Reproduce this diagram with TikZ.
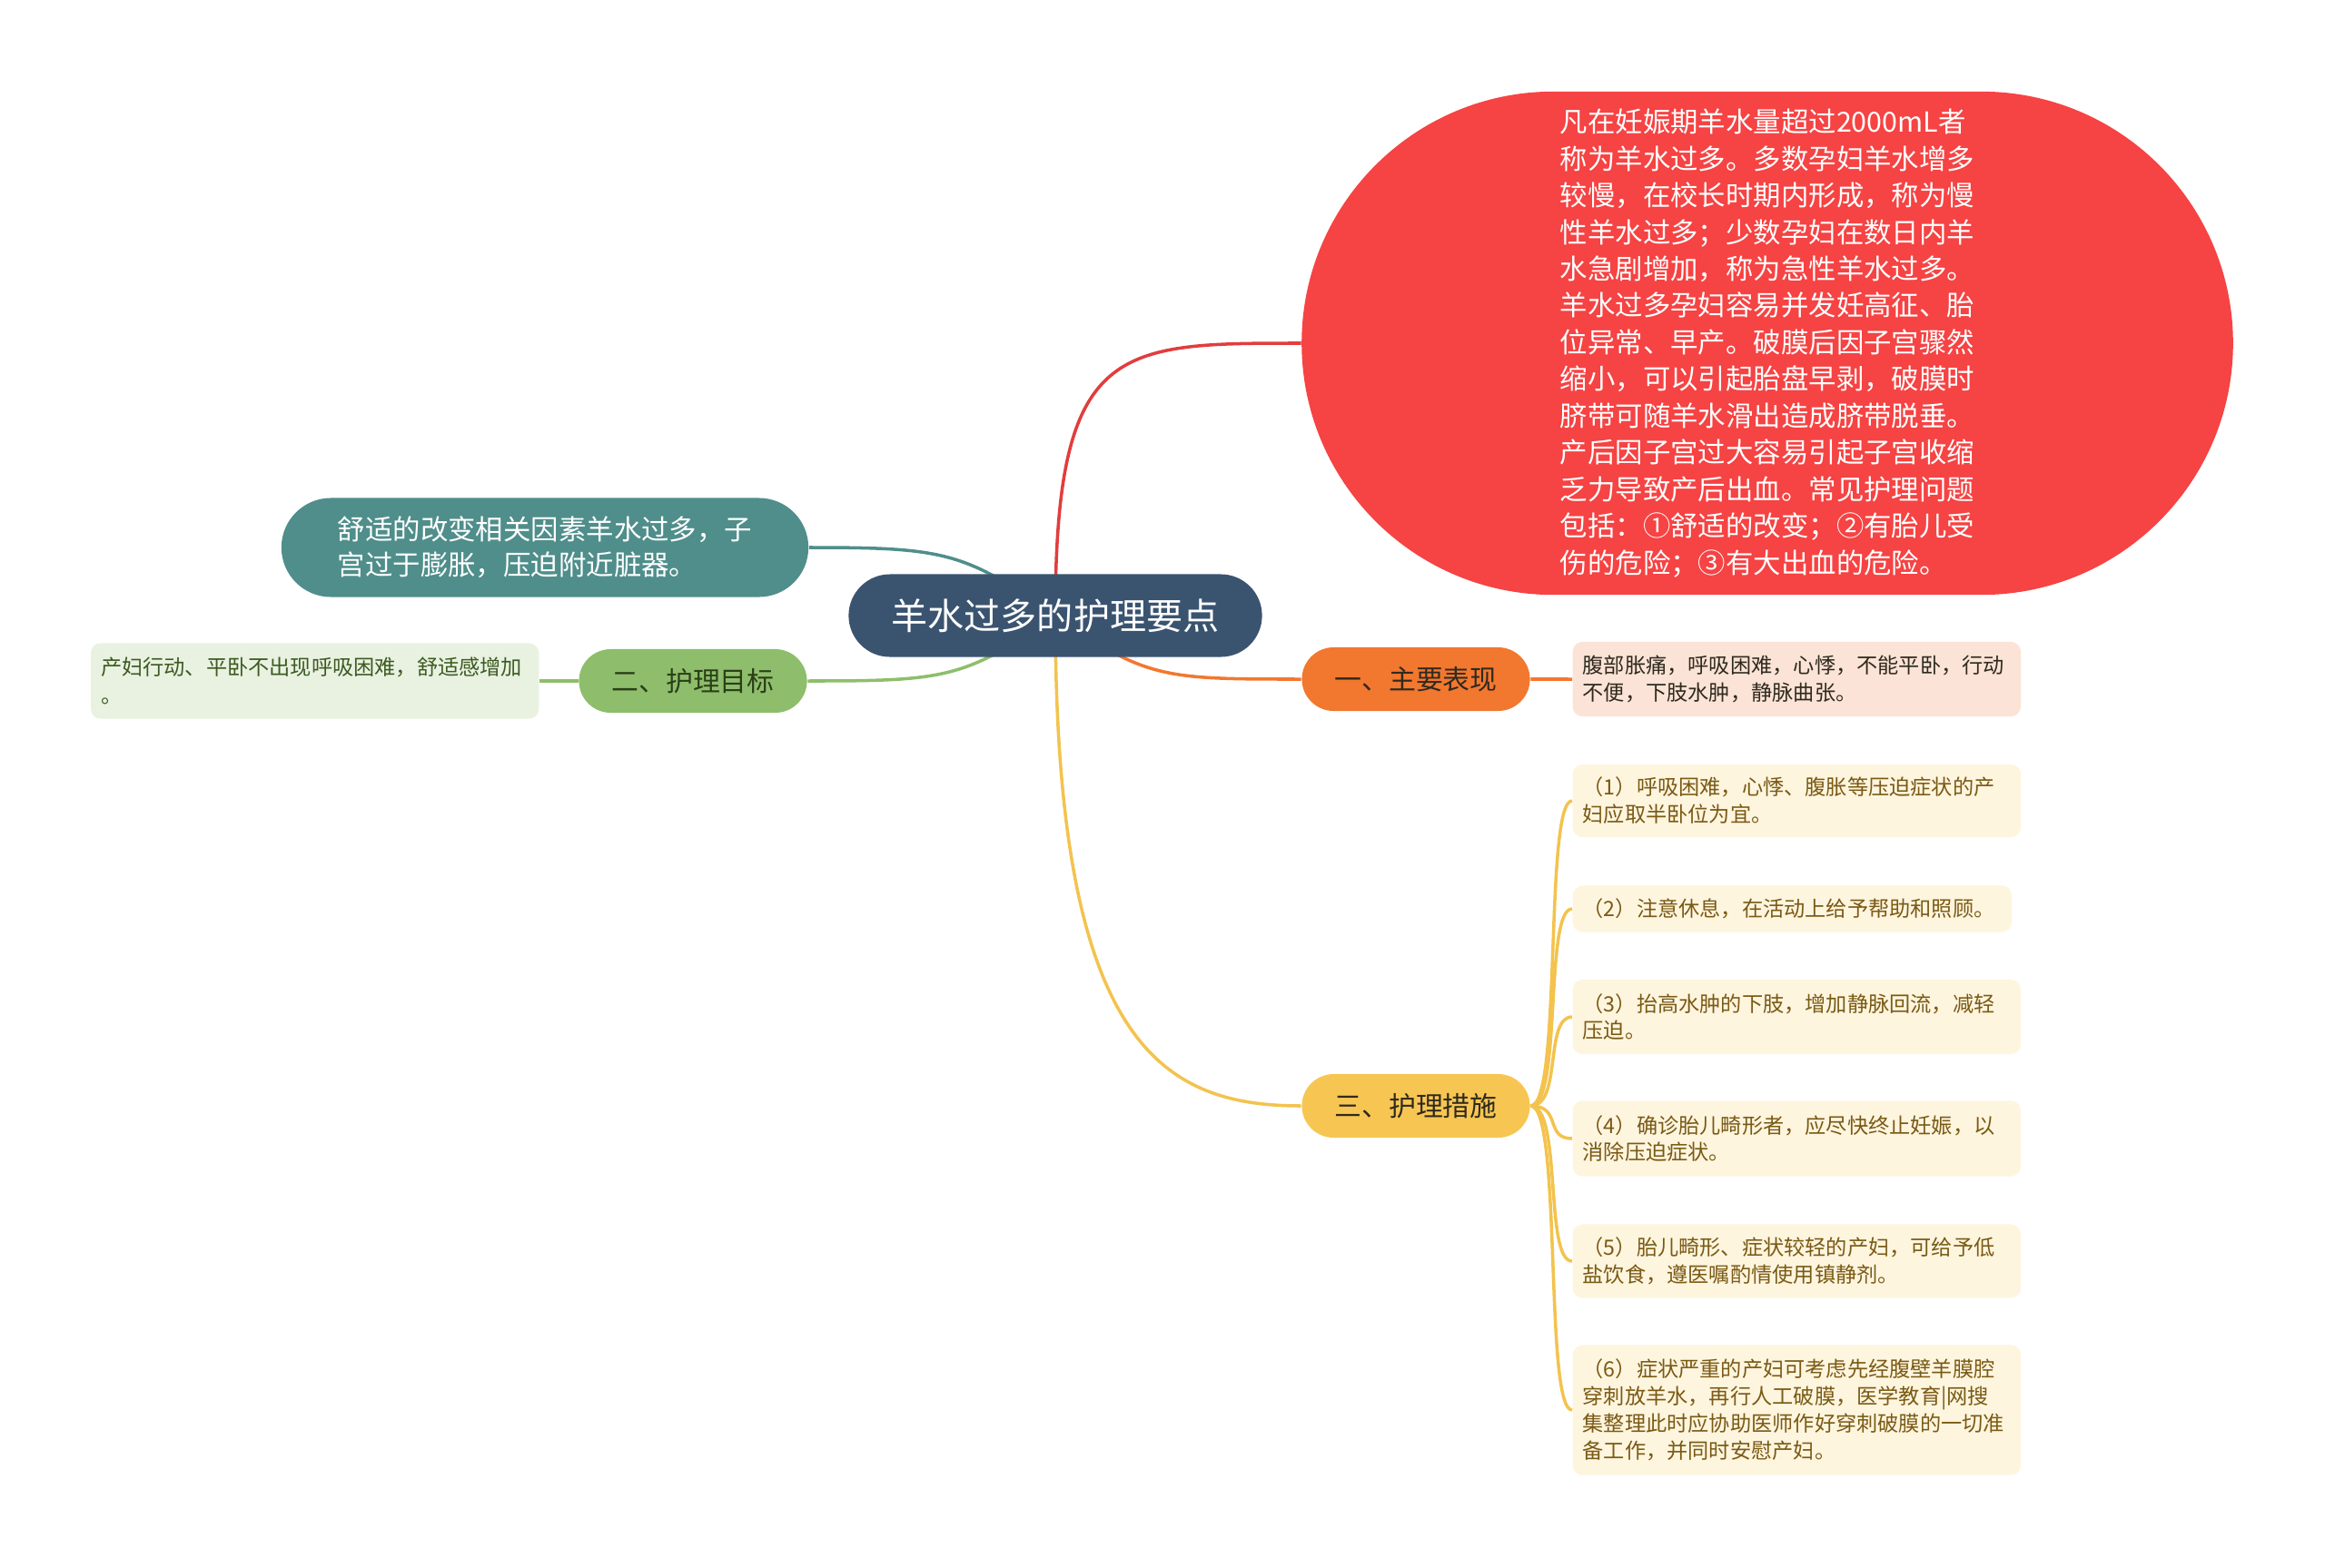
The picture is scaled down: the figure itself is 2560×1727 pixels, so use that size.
\documentclass[tikz,border=0pt]{standalone}
\usepackage{fontspec}
\setmainfont{Noto Sans CJK SC}
\usepackage{tikz}
\usetikzlibrary{shapes.misc,backgrounds,positioning}
\definecolor{rootblue}{HTML}{3A5470}
\definecolor{defred}{HTML}{F64343}
\definecolor{defline}{HTML}{E23D3D}
\definecolor{causeteal}{HTML}{4F8E8B}
\definecolor{goalgreen}{HTML}{8EBE6B}
\definecolor{goalpale}{HTML}{E9F2E1}
\definecolor{goaltext}{HTML}{3D5A22}
\definecolor{signorange}{HTML}{F2772F}
\definecolor{signpale}{HTML}{FCE3D7}
\definecolor{careyellow}{HTML}{F7C652}
\definecolor{careline}{HTML}{F3C34E}
\definecolor{carepale}{HTML}{FEF5DF}
\definecolor{caretext}{HTML}{7A5A14}
\definecolor{darktext}{HTML}{2F2A1E}
\tikzstyle{pill}=[rounded rectangle, inner sep=0pt, align=center]
\tikzstyle{leaf}=[rectangle, rounded corners=3pt, inner xsep=0.11cm, inner ysep=0pt, align=left, text width=4.71cm, font=\fontsize{6.6pt}{8.5pt}\selectfont]

\begin{document}
\begin{tikzpicture}[x=0.01cm,y=-0.01cm,
  branch/.style={pill, minimum width=2.51cm, minimum height=0.7cm, font=\fontsize{8.5pt}{10pt}\selectfont},
  link/.style={line width=1pt}]
\useasboundingbox (0,0) rectangle (2560,1727);
% centre
\node (root) at (1162,678) [pill, fill=rootblue, text=white, minimum width=4.55cm, minimum height=0.91cm, font=\fontsize{11.4pt}{13pt}\selectfont] {羊水过多的护理要点};
% definition
\node (def) at (1946,378) [pill, fill=defred, text=white, align=left, minimum width=10.25cm, minimum height=5.54cm, font=\fontsize{8.65pt}{11.5pt}\selectfont] {凡在妊娠期羊水量超过2000mL者\\称为羊水过多。多数孕妇羊水增多\\较慢，在校长时期内形成，称为慢\\性羊水过多；少数孕妇在数日内羊\\水急剧增加，称为急性羊水过多。\\羊水过多孕妇容易并发妊高征、胎\\位异常、早产。破膜后因子宫骤然\\缩小，可以引起胎盘早剥，破膜时\\脐带可随羊水滑出造成脐带脱垂。\\产后因子宫过大容易引起子宫收缩\\乏力导致产后出血。常见护理问题\\包括：①舒适的改变；②有胎儿受\\伤的危险；③有大出血的危险。};
% left side
\node (cause) at (600,603) [pill, fill=causeteal, text=white, align=left, minimum width=5.8cm, minimum height=1.09cm, font=\fontsize{8.65pt}{11.1pt}\selectfont] {舒适的改变相关因素羊水过多，子\\宫过于膨胀，压迫附近脏器。};
\node (goal) at (763,750) [branch, fill=goalgreen, text=goaltext!70!black] {二、护理目标};
\node (g1) at (594,750) [leaf, anchor=east, fill=goalpale, text=goaltext, minimum height=0.83cm, font=\fontsize{6.6pt}{9pt}\selectfont] {产妇行动、平卧不出现呼吸困难，舒适感增加\\。};
% right side
\node (sign) at (1559,748) [branch, fill=signorange, text=darktext] {一、主要表现};
\node (s1) at (1731,748) [leaf, anchor=west, fill=signpale, text=darktext, minimum height=0.82cm] {腹部胀痛，呼吸困难，心悸，不能平卧，行动\\不便，下肢水肿，静脉曲张。};
\node (care) at (1559,1218) [branch, fill=careyellow, text=darktext] {三、护理措施};
\node (c1) at (1731,882) [leaf, anchor=west, fill=carepale, text=caretext, minimum height=0.8cm] {（1）呼吸困难，心悸、腹胀等压迫症状的产\\妇应取半卧位为宜。};
\node (c2) at (1731,1001) [leaf, anchor=west, fill=carepale, text=caretext, minimum height=0.51cm, text width=4.61cm] {（2）注意休息，在活动上给予帮助和照顾。};
\node (c3) at (1731,1120) [leaf, anchor=west, fill=carepale, text=caretext, minimum height=0.82cm] {（3）抬高水肿的下肢，增加静脉回流，减轻\\压迫。};
\node (c4) at (1731,1254) [leaf, anchor=west, fill=carepale, text=caretext, minimum height=0.83cm] {（4）确诊胎儿畸形者，应尽快终止妊娠，以\\消除压迫症状。};
\node (c5) at (1731,1389) [leaf, anchor=west, fill=carepale, text=caretext, minimum height=0.81cm] {（5）胎儿畸形、症状较轻的产妇，可给予低\\盐饮食，遵医嘱酌情使用镇静剂。};
\node (c6) at (1731,1553) [leaf, anchor=west, fill=carepale, text=caretext, minimum height=1.43cm] {（6）症状严重的产妇可考虑先经腹壁羊膜腔\\穿刺放羊水，再行人工破膜，医学教育|网搜\\集整理此时应协助医师作好穿刺破膜的一切准\\备工作，并同时安慰产妇。};
\begin{scope}[on background layer]
\draw[link, defline] (root.center) .. controls +(0,-300) and +(-204,0) .. (def.west);
\draw[link, careline] (root.center) .. controls +(0,472) and +(-154,0) .. (care.west);
\draw[link, signorange] (root.center) .. controls +(100,70) and +(-150,0) .. (sign.west);
\draw[link, causeteal] (root.center) .. controls +(-100,-70) and +(150,0) .. (cause.east);
\draw[link, goalgreen] (root.center) .. controls +(-100,70) and +(150,0) .. (goal.east);
\draw[link, signorange] (sign) -- (s1);
\draw[link, goalgreen] (goal) -- (g1);
\foreach \i in {1,...,6}
  \draw[link, careline] (care.east) .. controls +(35,0) and +(-31,0) .. (c\i.west);
\end{scope}
\end{tikzpicture}
\end{document}
